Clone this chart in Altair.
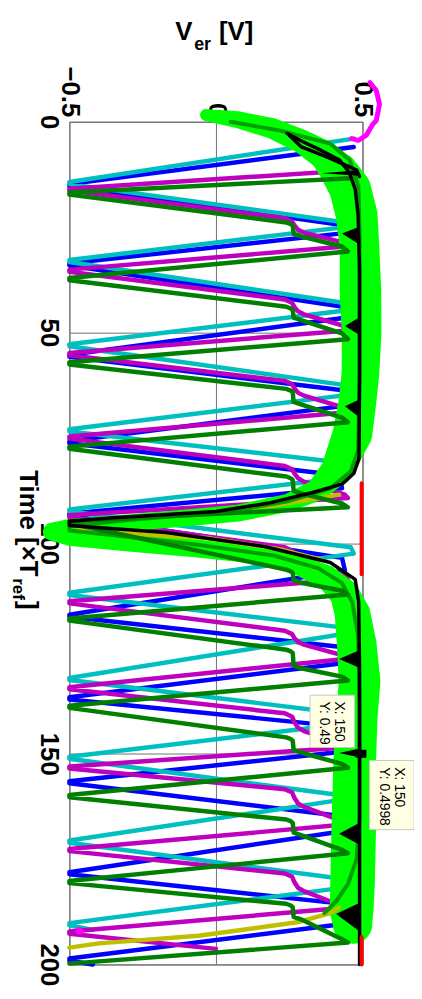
import altair as alt
import pandas as pd

FONT = "Liberation Sans"

# ---------------- axis ticks ----------------
v_ticks = [-0.5, 0, 0.5]
t_ticks = [0, 50, 100, 150, 200]

# ---------------- zig-zag series (time, V_er) ----------------
cyan_t = [4.0, 14.3, 14.8, 23.8, 25.0, 32.8, 33.3, 43.0, 44.8, 52.8, 53.3, 62.5, 65.0, 73.0, 73.5, 81.0, 84.5, 92.0, 92.5, 101.0,
          102.5, 111.8, 112.3, 120.0, 121.5, 132.0, 132.5, 140.5, 143.0, 150.7, 151.2, 159.8, 161.0, 170.6, 171.1, 179.5, 182.0, 190.2, 190.7, 191.8]
cyan_v = [0.47, -0.5, -0.5, 0.43, 0.44, -0.5, -0.5, 0.44, 0.44, -0.5, -0.5, 0.44, 0.43, -0.5, -0.5, 0.44, 0.44, -0.5, -0.5, 0.46,
          0.47, -0.5, -0.5, 0.43, 0.44, -0.5, -0.5, 0.44, 0.43, -0.5, -0.5, 0.42, 0.42, -0.5, -0.5, 0.41, 0.41, -0.5, -0.5, -0.42]

blue_t = [6.0, 14.8, 15.3, 24.5, 26.5, 33.6, 34.1, 44.0, 46.5, 55.3, 55.8, 63.8, 67.5, 75.8, 76.3, 83.9, 87.0, 93.0, 93.5, 103.5,
          106.5, 117.0, 117.5, 124.6, 128.5, 136.6, 137.1, 143.5, 149.5, 156.5, 157.0, 164.7, 168.5, 178.1, 178.6, 185.5, 190.5, 198.6, 199.1, 200.0]
blue_v = [0.47, -0.5, -0.5, 0.43, 0.43, -0.5, -0.5, 0.44, 0.44, -0.5, -0.5, 0.44, 0.43, -0.5, -0.5, 0.42, 0.43, -0.5, -0.5, 0.43,
          0.44, -0.5, -0.5, 0.42, 0.43, -0.5, -0.5, 0.42, 0.43, -0.5, -0.5, 0.42, 0.42, -0.5, -0.5, 0.42, 0.42, -0.5, -0.5, -0.42]

mag_t = [11.6, 15.9, 16.3, 22.9, 23.7, 24.6, 25.6, 26.3, 28.4, 29.6,
         35.1, 35.6, 42.2, 43.0, 44.0, 45.0, 45.7, 48.3, 49.6,
         54.9, 55.4, 61.5, 62.3, 63.3, 64.3, 65.0, 67.5, 69.0,
         74.7, 75.2, 81.7, 82.5, 83.5, 84.6, 85.4, 88.5, 89.3,
         93.4, 93.9, 101.0, 101.8, 102.8, 103.8, 104.5, 107.8, 108.6,
         113.8, 114.3, 120.8, 121.6, 122.6, 123.4, 124.1, 126.4, 127.5,
         134.2, 134.7, 140.4, 141.2, 142.6, 143.8, 144.6, 147.3, 148.5,
         153.0, 153.5, 158.4, 159.2, 160.5, 161.8, 162.6, 165.7, 166.8,
         172.6, 173.1, 178.4, 179.2, 180.5, 181.8, 182.6, 185.3, 186.6,
         192.2, 192.7, 196.3]
mag_v = [0.45, -0.5, -0.5, 0.235, 0.26, 0.268, 0.28, 0.30, 0.42, 0.44,
         -0.5, -0.5, 0.235, 0.26, 0.268, 0.28, 0.30, 0.43, 0.44,
         -0.5, -0.5, 0.235, 0.26, 0.268, 0.28, 0.30, 0.42, 0.44,
         -0.5, -0.5, 0.235, 0.26, 0.268, 0.28, 0.30, 0.44, 0.45,
         -0.5, -0.5, 0.235, 0.26, 0.268, 0.28, 0.30, 0.44, 0.45,
         -0.5, -0.5, 0.235, 0.26, 0.268, 0.28, 0.30, 0.42, 0.44,
         -0.5, -0.5, 0.235, 0.26, 0.268, 0.28, 0.30, 0.42, 0.44,
         -0.5, -0.5, 0.235, 0.26, 0.268, 0.28, 0.30, 0.42, 0.44,
         -0.5, -0.5, 0.235, 0.26, 0.268, 0.28, 0.30, 0.40, 0.43,
         -0.5, -0.5, 0.0]

dgreen_t = [13.4, 16.8, 17.3, 23.9, 24.3, 24.7, 26.6, 27.2, 29.6, 30.8,
            37.1, 37.6, 43.9, 44.3, 44.7, 46.5, 47.1, 50.2, 51.6,
            57.1, 57.6, 63.4, 63.8, 64.2, 66.5, 67.1, 70.2, 71.3,
            77.1, 77.6, 84.2, 84.6, 85.0, 87.6, 88.2, 90.6, 91.5,
            94.8, 95.3, 106.3, 106.7, 107.1, 108.8, 109.4, 111.3, 112.2,
            117.9, 118.4, 125.3, 125.7, 126.1, 129.1, 129.7, 131.7, 132.6,
            138.6, 139.1, 146.1, 146.5, 146.9, 149.1, 149.7, 152.4, 153.3,
            159.8, 160.3, 165.6, 166.0, 166.4, 168.7, 169.3, 172.8, 173.6,
            180.2, 180.7, 185.6, 186.0, 186.4, 188.7, 189.3, 194.0, 194.8,
            199.8]
dgreen_v = [0.46, -0.5, -0.5, 0.24, 0.255, 0.262, 0.265, 0.29, 0.43, 0.45,
            -0.5, -0.5, 0.24, 0.255, 0.262, 0.265, 0.29, 0.43, 0.45,
            -0.5, -0.5, 0.24, 0.255, 0.262, 0.265, 0.29, 0.43, 0.45,
            -0.5, -0.5, 0.24, 0.255, 0.262, 0.265, 0.29, 0.43, 0.45,
            -0.5, -0.5, 0.24, 0.255, 0.262, 0.265, 0.29, 0.43, 0.45,
            -0.5, -0.5, 0.24, 0.255, 0.262, 0.265, 0.29, 0.43, 0.45,
            -0.5, -0.5, 0.24, 0.255, 0.262, 0.265, 0.29, 0.43, 0.45,
            -0.5, -0.5, 0.24, 0.255, 0.262, 0.265, 0.29, 0.43, 0.45,
            -0.5, -0.5, 0.24, 0.255, 0.262, 0.265, 0.29, 0.43, 0.45,
            -0.5]

# smooth green curve following the band
g2_t = [0.0, 2.1, 5.2, 9.1, 15.3, 27.0, 60.0, 78.0, 83.0, 87.0, 90.0, 92.5, 94.5, 96.0, 97.0, 98.5, 100.5, 103.0, 106.0,
        109.5, 114.0, 122.0, 140.0, 165.0, 175.0, 181.0, 185.0, 187.8]
g2_v = [0.05, 0.22, 0.39, 0.456, 0.486, 0.49, 0.49, 0.485, 0.46, 0.39, 0.25, 0.05, -0.3, -0.5, -0.5, -0.3, -0.05, 0.2, 0.35,
        0.43, 0.465, 0.485, 0.49, 0.49, 0.48, 0.45, 0.41, 0.37]

# wide bright-green band: centre line and width (px)
band_t = [-1.6, -0.5, 1.6, 4.7, 8.0, 11.8, 16.0, 22.1, 30.1, 40.4, 50.1, 59.7, 66.3, 74.0, 82.7, 87.4, 90.5, 92.9, 94.2, 95.4,
          96.4, 97.3, 98.5, 99.9, 101.3, 102.7, 105.1, 108.1, 112.1, 116.8, 123.9, 132.8, 141.5, 152.5, 168.0, 180.7, 187.3, 190.4]
band_v = [-0.034, 0.074, 0.193, 0.294, 0.37, 0.42, 0.458, 0.48, 0.490, 0.493, 0.497, 0.493, 0.483, 0.466, 0.412, 0.345,
          0.243, 0.074, -0.128, -0.331, -0.5, -0.56, -0.5, -0.297, -0.061, 0.125, 0.277, 0.378, 0.439, 0.466, 0.480, 0.490,
          0.480, 0.473, 0.470, 0.466, 0.463, 0.466]
band_w = [12, 17, 21, 24, 30, 38, 42, 42, 40, 42, 40, 38, 38, 40, 32, 22, 18, 17, 17, 17,
          18, 18, 18, 18, 18, 18, 20, 24, 30, 36, 40, 42, 42, 43, 45, 45, 44, 40]

# black curves
k1_t = [2.8, 4.5, 6.5, 9.0, 12.0, 16.0, 22.0, 35.0, 60.0, 80.0, 83.5, 86.0, 88.0, 90.5, 92.5, 94.0, 94.8, 95.8, 97.5, 100.8,
        104.6, 108.6, 114.0, 130.0, 200.0]
k1_v = [0.243, 0.29, 0.35, 0.42, 0.455, 0.475, 0.485, 0.49, 0.49, 0.488, 0.47, 0.43, 0.33, 0.18, 0.0, -0.35, -0.5, -0.5, -0.17, 0.165,
        0.39, 0.475, 0.487, 0.49, 0.49]
k3_t = [3.2, 5.9, 8.7, 11.5, 13.0]
k3_v = [0.25, 0.29, 0.39, 0.48, 0.49]
# black wedges: start time, tip time, end time, tip value
wedge_t0 = [11.5, 25.0, 46.5, 66.0, 125.5, 148.8, 166.5, 185.5]
wedge_tc = [12.2, 26.5, 48.5, 67.5, 127.5, 149.8, 169.0, 188.0]
wedge_t1 = [12.8, 29.0, 50.5, 70.0, 129.5, 150.8, 171.5, 192.0]
wedge_v = [0.36, 0.43, 0.44, 0.44, 0.42, 0.42, 0.42, 0.41]
wedge_base = 0.487

# yellow curves
y1_t = [88.5, 91.0, 92.6, 94.2, 95.5, 97.3, 98.8, 101.5, 104.0]
y1_v = [0.42, 0.2, 0.0, -0.3, -0.5, -0.42, -0.03, 0.22, 0.36]
y2_t = [186.5, 187.8, 190.0, 193.2, 195.0, 196.0]
y2_v = [0.42, 0.39, 0.277, -0.06, -0.4, -0.5]

# red segments
red_t = [85.8, 107.4, 193.5, 200.0]
red_v = [0.497, 0.497, 0.497, 0.497]
red_seg = [0, 0, 1, 1]

# bright magenta arc at the start
arc_t = [-9.3, -7.4, -4.2, -0.3, 0.5, 3.2, 4.4, 4.0]
arc_v = [0.525, 0.547, 0.558, 0.547, 0.536, 0.513, 0.486, 0.463]

# markers
dot_t = [192.0]
dot_v = [-0.466]
tip_pt_t = [150, 150]
tip_pt_v = [0.4998, 0.49]

# data tip boxes and text
box_t0 = [136.1, 151.6]
box_t1 = [148.5, 168.0]
box_v0 = [0.321, 0.524]
box_v1 = [0.473, 0.676]
tip_txt = ["X: 150", "Y: 0.49", "X: 150", "Y: 0.4998"]
tip_txt_t = [137.6, 137.6, 153.2, 153.2]
tip_txt_v = [0.405, 0.355, 0.611, 0.561]


def df(ts, vs, seg=None):
    d = pd.DataFrame({"t": ts, "v": vs})
    d["i"] = range(len(d))
    d["seg"] = seg if seg is not None else 0
    return d


xs = alt.Scale(domain=[-0.5, 0.5], nice=False, zero=False)
ys = alt.Scale(domain=[0, 200], nice=False, zero=False, reverse=True)
xa = alt.Axis(orient="top", values=v_ticks, labelExpr="datum.value < 0 ? '\u22120.5' : (datum.value > 0 ? '0.5' : '0')",
              labelAngle=90, labelAlign="right", labelBaseline="middle", labelFontSize=26, labelFontWeight="bold",
              labelFont=FONT, labelPadding=5, ticks=False, domain=False, grid=True, gridColor="#707070",
              gridOpacity=1, title=None, labelColor="black")
ya = alt.Axis(orient="left", values=t_ticks, labelAngle=90, labelAlign="center", labelBaseline="top",
              labelFontSize=26, labelFontWeight="bold", labelFont=FONT, labelPadding=8, ticks=False, domain=False,
              grid=True, gridColor="#707070", gridOpacity=1, title=None, labelColor="black")


def X():
    return alt.X("v:Q", scale=xs, axis=xa)


def Y():
    return alt.Y("t:Q", scale=ys, axis=ya)


def line(d, color, w=4.5):
    return alt.Chart(d).mark_line(color=color, strokeWidth=w, strokeJoin="round", strokeCap="round").encode(
        x=X(), y=Y(), order="i:Q", detail="seg:N")


blue = line(df(blue_t, blue_v), "#0000FF")
cyan = line(df(cyan_t, cyan_v), "#00BFBF")
mag = line(df(mag_t, mag_v), "#BF00BF")

bd = df(band_t, band_v)
bd["w"] = band_w
band = alt.Chart(bd).mark_trail(color="#00FF00").encode(
    x=X(), y=Y(), size=alt.Size("w:Q", scale=None, legend=None), order="i:Q")

yel = line(pd.concat([df(y1_t, y1_v, 0), df(y2_t, y2_v, 1)]), "#BFBF00", 4.5)
dgreen = line(df(dgreen_t, dgreen_v), "#007F00")
g2 = line(df(g2_t, g2_v), "#00A000", 4)
k1 = line(pd.concat([df(k1_t, k1_v, 0), df(k3_t, k3_v, 1)]), "#000000", 3.5)

wrows = []
for s, (a, c, b, tv) in enumerate(zip(wedge_t0, wedge_tc, wedge_t1, wedge_v)):
    wrows += [{"t": a, "v": wedge_base, "v2": wedge_base, "seg": s},
              {"t": c, "v": tv, "v2": wedge_base, "seg": s},
              {"t": b, "v": wedge_base, "v2": wedge_base, "seg": s}]
wedges = alt.Chart(pd.DataFrame(wrows)).mark_area(orient="horizontal", color="#000000").encode(
    x=alt.X("v:Q", scale=xs, axis=xa, stack=None), x2="v2:Q", y=Y(), detail="seg:N")

red = line(df(red_t, red_v, red_seg), "#FF0000", 4)
arc = line(df(arc_t, arc_v), "#FF00FF", 5)

dot = alt.Chart(df(dot_t, dot_v)).mark_circle(color="#FF00FF", size=60, opacity=1).encode(x=X(), y=Y())
sq = alt.Chart(df(tip_pt_t, tip_pt_v)).mark_square(color="#000000", size=64, opacity=1).encode(x=X(), y=Y())

boxes = alt.Chart(pd.DataFrame({"t": box_t0, "t2": box_t1, "v": box_v0, "v2": box_v1})).mark_rect(
    fill="#FFFFE4", stroke="#C8C8C8", strokeWidth=1).encode(
    x=X(), x2="v2:Q", y=Y(), y2="t2:Q")
tips = alt.Chart(pd.DataFrame({"t": tip_txt_t, "v": tip_txt_v, "s": tip_txt})).mark_text(
    angle=90, align="left", baseline="alphabetic", font=FONT, fontSize=14, color="#000000").encode(
    x=X(), y=Y(), text="s:N")


def label(txt, x, y, size, angle=0):
    return alt.Chart(pd.DataFrame({"s": [txt]})).mark_text(
        align="left", baseline="alphabetic", font=FONT, fontSize=size, fontWeight="bold",
        angle=angle, color="#000000").encode(text="s:N", x=alt.value(x), y=alt.value(y))


titles = [
    label("V", 107, -83, 26),
    label("er", 126, -72, 18),
    label("[V]", 151, -83, 26),
    label("Time [\u00d7T", -50, 352, 26, 90),
    label("ref", -57, 461, 17, 90),
    label("]", -50, 484, 26, 90),
]

chart = alt.layer(
    blue, cyan, mag, band, yel, g2, dgreen, wedges, k1, red, arc, dot, boxes, tips, sq, *titles
).properties(
    width=296, height=851,
    padding={"left": 62, "top": 110, "right": 52, "bottom": 28},
    autosize=alt.AutoSizeParams(type="none"),
    background="white",
).configure_view(stroke="#666666", strokeWidth=1)

chart.save("out.html", embed_options={"renderer": "svg", "actions": False})
